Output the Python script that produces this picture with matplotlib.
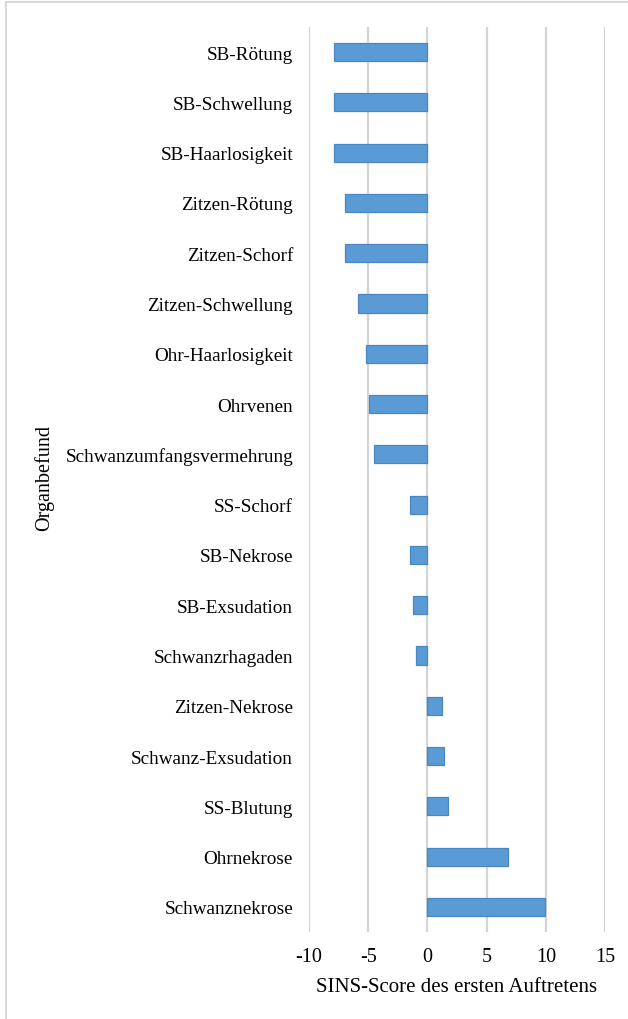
import matplotlib
matplotlib.use("Agg")
import matplotlib.pyplot as plt
from matplotlib.lines import Line2D

# Befunde (top to bottom as shown) and SINS score of first occurrence
befunde = ["SB-Rötung", "SB-Schwellung", "SB-Haarlosigkeit", "Zitzen-Rötung",
           "Zitzen-Schorf", "Zitzen-Schwellung", "Ohr-Haarlosigkeit", "Ohrvenen",
           "Schwanzumfangsvermehrung", "SS-Schorf", "SB-Nekrose", "SB-Exsudation",
           "Schwanzrhagaden", "Zitzen-Nekrose", "Schwanz-Exsudation", "SS-Blutung",
           "Ohrnekrose", "Schwanznekrose"]
scores = [-7.9, -7.9, -7.9, -7.0, -7.0, -5.9, -5.2, -4.9, -4.5, -1.5, -1.5, -1.2,
          -1.0, 1.2, 1.4, 1.7, 6.8, 9.9]
x_ticks = [-10, -5, 0, 5, 10, 15]

plt.rcParams['font.family'] = ['Liberation Serif', 'DejaVu Serif']

fig = plt.figure(figsize=(6.28, 10.2), dpi=100)
ax = fig.add_axes([309 / 628, 1 - 933 / 1020, 296 / 628, 905 / 1020])

ypos = list(range(len(befunde)))
ax.barh(ypos, scores, height=0.36, color='#5B9BD5', edgecolor='#4A86C2',
        linewidth=0.9, zorder=3)

ax.set_xlim(-10, 15)
ax.set_ylim(len(befunde) - 0.5, -0.5)
ax.set_xticks(x_ticks)
ax.set_xticklabels([str(t) for t in x_ticks], fontsize=14.5)
ax.set_yticks(ypos)
ax.set_yticklabels(befunde, fontsize=13.8)
ax.tick_params(axis='both', length=0)
ax.tick_params(axis='y', pad=11.5)
ax.tick_params(axis='x', pad=11)
ax.xaxis.grid(True, color='#D4D4D4', linewidth=1.6, zorder=0)
for s in ax.spines.values():
    s.set_visible(False)

ax.set_xlabel('SINS-Score des ersten Auftretens', fontsize=15, labelpad=8)
fig.text(44 / 628, 1 - 478 / 1020, 'Organbefund', rotation=90, fontsize=14.5,
         ha='center', va='center')

# light frame at top and left of the picture
fig.add_artist(Line2D([6 / 628, 6 / 628], [0, 1 - 3 / 1020], color='#D9D9D9',
                      linewidth=1.5, transform=fig.transFigure))
fig.add_artist(Line2D([6 / 628, 1], [1 - 3 / 1020, 1 - 3 / 1020], color='#D9D9D9',
                      linewidth=1.5, transform=fig.transFigure))

fig.savefig('out.png', dpi=100)
